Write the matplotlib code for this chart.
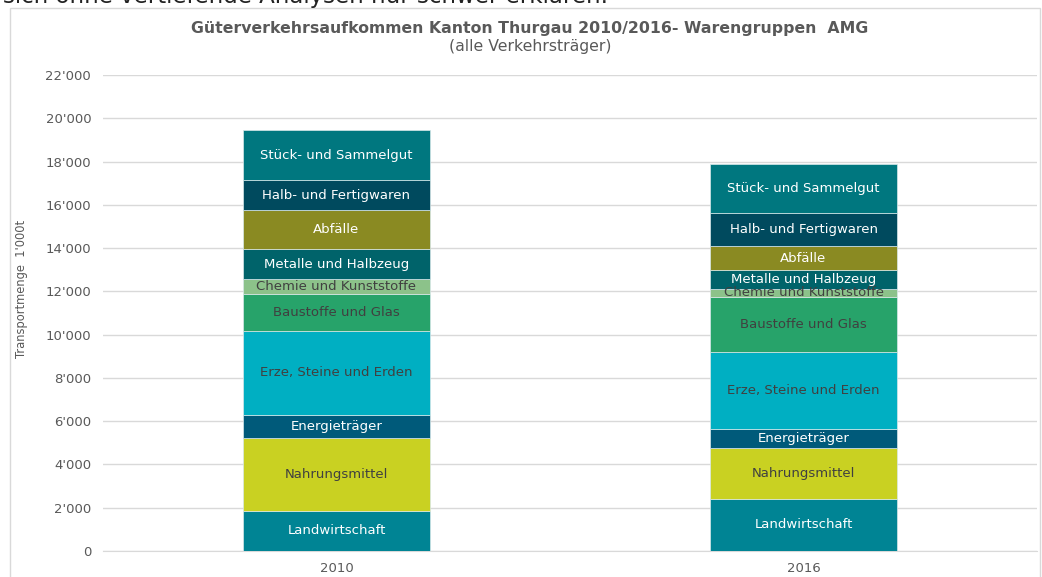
import numpy as np
import matplotlib.pyplot as plt
from matplotlib.patches import Rectangle

years = ["2010", "2016"]
groups = ["Landwirtschaft", "Nahrungsmittel", "Energieträger", "Erze, Steine und Erden",
          "Baustoffe und Glas", "Chemie und Kunststoffe", "Metalle und Halbzeug",
          "Abfälle", "Halb- und Fertigwaren", "Stück- und Sammelgut"]
v2010 = [1860, 3350, 1070, 3900, 1720, 650, 1390, 1810, 1390, 2310]
v2016 = [2420, 2320, 910, 3530, 2570, 350, 880, 1110, 1510, 2280]

colors = ["#008494", "#c9d122", "#005a7a", "#00afc2", "#27a36a",
          "#8cc28a", "#00636a", "#8a8a22", "#004a5e", "#00777f"]
text_colors = ["white", "#404040", "white", "#404040", "#404040",
               "#404040", "white", "white", "white", "white"]

fig = plt.figure(figsize=(10.42, 5.77), dpi=100)
ax = fig.add_axes([103 / 1042, 1 - 551 / 577, 934 / 1042, 476 / 577])

# outer chart frame and cut-off text line above it
fig.patches.append(Rectangle((10 / 1042, -0.01), 1030 / 1042, 1 - 8 / 577 + 0.01,
                             transform=fig.transFigure, fill=False,
                             edgecolor="#d9d9d9", linewidth=1))
fig.text(0.003, 1 - 2.5 / 577, "sich ohne vertiefende Analysen nur schwer erklären.",
         fontsize=16.5, color="#222222", va="baseline")

x = np.arange(len(years))
data = np.array([v2010, v2016])
bottom = np.zeros(len(years))
for i, g in enumerate(groups):
    vals = data[:, i]
    ax.bar(x, vals, 0.4, bottom=bottom, color=colors[i], edgecolor="#d8e8ea",
           linewidth=0.5, zorder=3)
    for j in range(len(years)):
        ax.text(x[j], bottom[j] + vals[j] / 2, g, ha="center", va="center",
                fontsize=9.5, color=text_colors[i], zorder=4)
    bottom += vals

ax.set_xlim(-0.5, 1.5)
ax.set_ylim(0, 22000)
ax.set_yticks(np.arange(0, 22001, 2000))
ax.set_yticklabels([f"{v:,}".replace(",", "'") for v in range(0, 22001, 2000)])
ax.set_xticks(x)
ax.set_xticklabels(years)
ax.tick_params(axis="both", length=0, labelsize=9.5, labelcolor="#595959")
ax.tick_params(axis="y", pad=8.5)
ax.tick_params(axis="x", pad=8)
ax.grid(axis="y", color="#d9d9d9", linewidth=1, zorder=0)
for s in ["top", "right", "left"]:
    ax.spines[s].set_visible(False)
ax.spines["bottom"].set_color("#d9d9d9")

fig.text(22 / 1042, 1 - 289 / 577, "Transportmenge  1'000t", rotation=90,
         ha="center", va="center", fontsize=8.3, color="#595959")
fig.text(530 / 1042, 1 - 29 / 577, "Güterverkehrsaufkommen Kanton Thurgau 2010/2016- Warengruppen  AMG",
         ha="center", va="center", fontsize=11.3, fontweight="bold", color="#595959")
fig.text(530 / 1042, 1 - 47 / 577, "(alle Verkehrsträger)", ha="center", va="center",
         fontsize=11.3, color="#595959")

fig.savefig("out.png", dpi=100)
